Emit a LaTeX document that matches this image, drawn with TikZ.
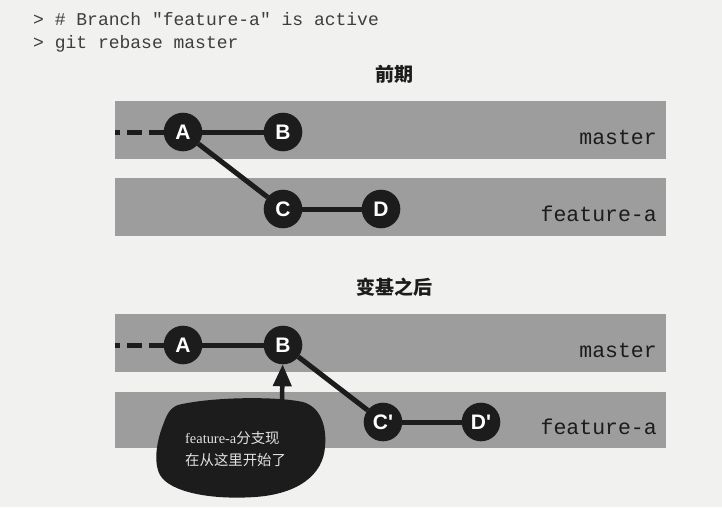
\documentclass[tikz,border=0pt]{standalone}
\usepackage{fontspec}
\usepackage{tikz}
\usepackage{tkz-berge}
\usetikzlibrary{arrows.meta,shapes}
\newfontfamily\codefont{Liberation Mono}[Ligatures=TeXOff]
\newfontfamily\commitfont{Liberation Sans}[Ligatures=TeXOff]
\newfontfamily\notefont{Liberation Serif}
\newfontfamily\cjk{Noto Sans CJK SC}
\definecolor{paper}{HTML}{F1F1EF}
\definecolor{band}{HTML}{9D9D9D}
\definecolor{commit}{HTML}{1C1C1C}
\definecolor{notetext}{HTML}{E2E2E2}
\newcommand{\commitr}{38.6pt}
\newcommand{\shiftdown}{213}

\begin{document}
\begin{tikzpicture}[x=1pt, y=-1pt]
            \fill[paper] (0,0) rectangle (722,507);
            \useasboundingbox (0,0) rectangle (722,507);
            \GraphInit[vstyle=Normal]
            \SetVertexNormal[Shape=circle, FillColor=commit, MinSize=\commitr]
            \tikzset{VertexStyle/.append style = {draw = none, inner sep = 0pt, text = white, font = \commitfont\bfseries\fontsize{21}{21}\selectfont}}
            \SetUpEdge[lw = 5pt, color = commit]
            \tikzset{bandlabel/.style = {anchor = base east, inner sep = 0pt, text = commit, font = \codefont\fontsize{21.5}{22}\selectfont},
                     title/.style = {anchor = base, inner sep = 0pt, text = commit, font = \cjk\bfseries\fontsize{19}{19}\selectfont},
                     tail/.style = {line width = 5pt, draw = commit, dash pattern = on 15pt off 7pt},
                     pointer/.style = {line width = 4.5pt, draw = commit, -{Triangle[width=18pt, length=22pt]}}}
            \node[anchor = base west, inner sep = 0pt, text = commit!85, font = \codefont\fontsize{18}{18}\selectfont] (cmd1) at (33,25) {> \# Branch "feature-a" is active};
            \node[anchor = base west, inner sep = 0pt, text = commit!85, font = \codefont\fontsize{18}{18}\selectfont] (cmd2) at (33,48) {> git rebase master};
            
            % before
            \begin{scope}
                \fill[band] (115,101) rectangle (666,158.5);
                \fill[band] (115,178) rectangle (666,235.5);
                \node[title] (before) at (394,81) {前期};
                \node[bandlabel] (master1) at (657,144) {master};
                \node[bandlabel] (feature1) at (657,221) {feature-a};
                \coordinate (s1) at (115,132);
                \Vertex[x=183, y=132, L=A]{a1}
                \Vertex[x=283, y=132, L=B]{b1}
                \Vertex[x=283, y=209, L=C]{c1}
                \Vertex[x=381, y=209, L=D]{d1}
                \draw[tail] (a1) -- (s1);
                \Edge(a1)(b1)
                \Edge(a1)(c1)
                \Edge(c1)(d1)
            \end{scope}
            
            % after
            \begin{scope}[shift={(0,\shiftdown)}]
                \fill[band] (115,101) rectangle (666,158.5);
                \fill[band] (115,178.5) rectangle (666,235);
                \node[title] (after) at (394,81) {变基之后};
                \node[bandlabel] (master2) at (657,144) {master};
                \node[bandlabel] (feature2) at (657,221) {feature-a};
                \coordinate (s2) at (115,132);
                \Vertex[x=183, y=132, L=A]{a2}
                \Vertex[x=283, y=132, L=B]{b2}
                \Vertex[x=383, y=209, L={C'}]{c2}
                \Vertex[x=481, y=209, L={D'}]{d2}
                \draw[tail] (a2) -- (s2);
                \Edge(a2)(b2)
                \Edge(b2)(c2)
                \Edge(c2)(d2)
            \end{scope}
            
            % note blob
            \fill[commit] (178,405) .. controls (210,397) and (275,396) .. (303,402)
                .. controls (320,407) and (327,425) .. (325,447)
                .. controls (323,475) and (298,494) .. (255,497)
                .. controls (210,500) and (170,492) .. (160,475)
                .. controls (153,462) and (157,440) .. (163,425)
                .. controls (167,414) and (170,408) .. (178,405) -- cycle;
            \node[anchor = base west, inner sep = 0pt, text = notetext, font = \fontsize{14.4}{14.4}\selectfont] (note1) at (185,443) {{\notefont feature-a}{\cjk 分支现}};
            \node[anchor = base west, inner sep = 0pt, text = notetext, font = \fontsize{14.4}{14.4}\selectfont] (note2) at (185,465) {\cjk 在从这里开始了};
            \coordinate (notetop) at (282,402);
            \draw[pointer] (notetop) -- (b2);
        \end{tikzpicture}
\end{document}
